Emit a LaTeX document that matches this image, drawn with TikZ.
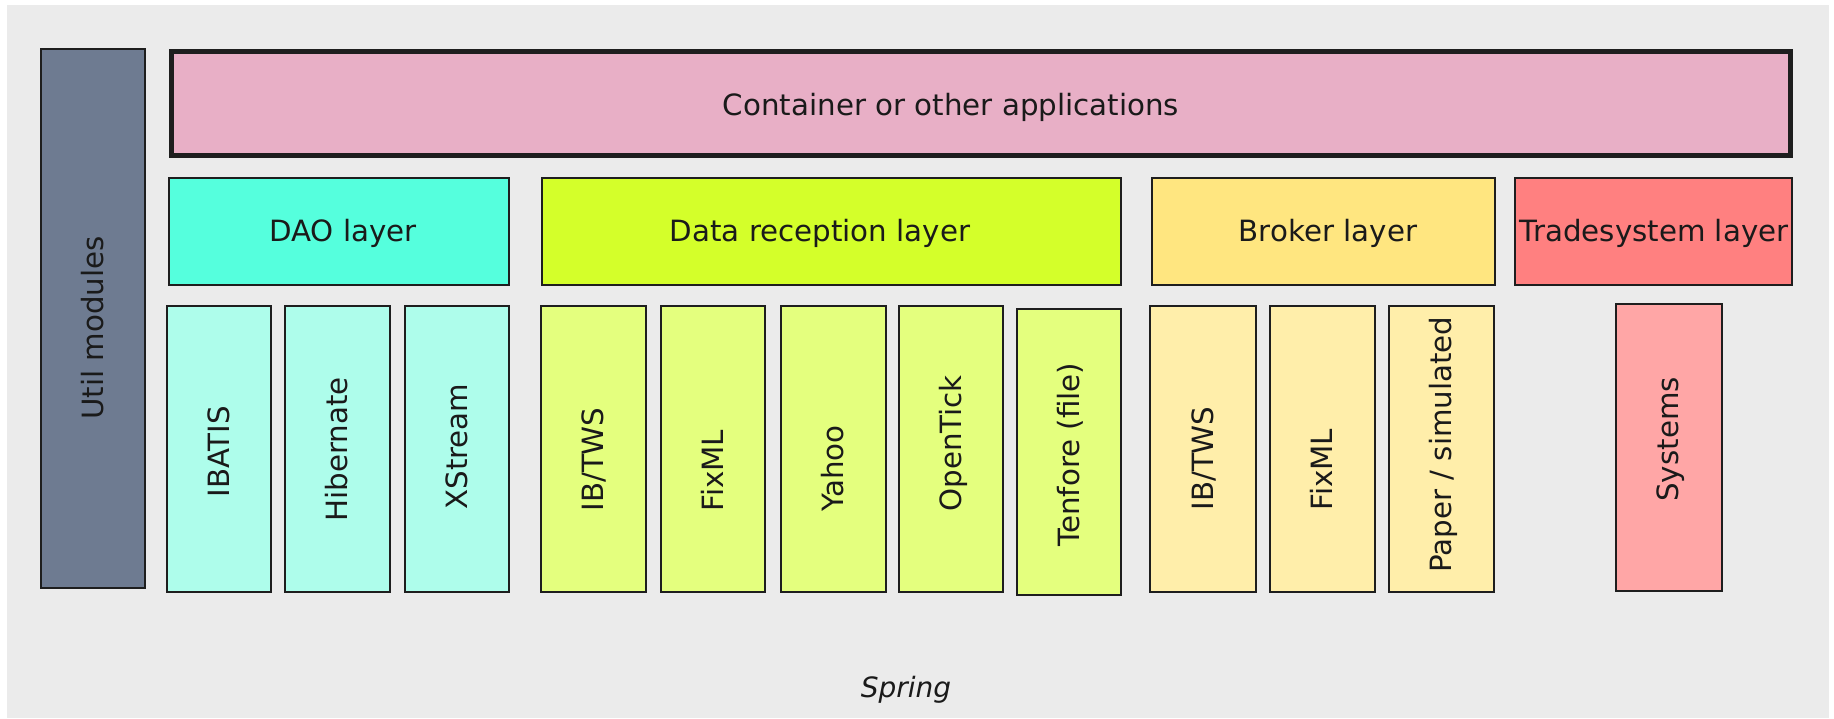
\documentclass[tikz,border=0pt]{standalone}
\usepackage{fontspec}
\setmainfont{DejaVu Sans}
\definecolor{bgc}{HTML}{EBEBEB}
\definecolor{edgec}{HTML}{1E1E1E}
\definecolor{utilc}{HTML}{6E7B91}
\definecolor{contc}{HTML}{E8AFC6}
\definecolor{daoc}{HTML}{55FFDD}
\definecolor{daosubc}{HTML}{AEFDEB}
\definecolor{drc}{HTML}{D4FF2A}
\definecolor{drsubc}{HTML}{E4FF7E}
\definecolor{brc}{HTML}{FFE680}
\definecolor{brsubc}{HTML}{FFEEAA}
\definecolor{tsc}{HTML}{FF8080}
\definecolor{tssubc}{HTML}{FFA6A6}
\definecolor{txtc}{HTML}{1A1A1A}
% name, x1, y1, x2, y2, fill
\newcommand\mkblk[6]{%
  \node[blk, fill=#6, minimum width={(#4-#2)*0.5pt}, minimum height={(#5-#3)*0.5pt}]
    (#1) at ({(#2+#4)/2},{(#3+#5)/2}) {};}
\tikzset{
  blk/.style={draw=edgec, line width=1.2pt, inner sep=0pt, outer sep=0pt, rectangle},
  lbl/.style={font=\fontsize{14.65pt}{17pt}\selectfont, text=txtc, inner sep=0pt, anchor=base},
  vlbl/.style={font=\fontsize{14.65pt}{17pt}\selectfont, text=txtc, inner sep=0pt, rotate=90, anchor=base west},
}
\begin{document}
\begin{tikzpicture}[x=0.5pt, y=-0.5pt]
\useasboundingbox (0,0) rectangle (1834,718);
\fill[white] (0,0) rectangle (1834,718);
\fill[bgc] (7,5) rectangle (1829,718);

% util
\mkblk{util}{41}{49}{145}{588}{utilc}
\node[vlbl] (utill) at (103,420) {Util modules};

% container
\node[blk, fill=contc, line width=2.5pt, minimum width={(1790-171.5)*0.5pt}, minimum height={(155.5-51.5)*0.5pt}]
  (cont) at ({(171.5+1790)/2},{(51.5+155.5)/2}) {};
\node[lbl] (contl) at (951,115) {Container or other applications};

% layers
\mkblk{dao}{169}{178}{509}{285}{daoc}
\node[lbl] (daol) at (343,241) {DAO layer};
\mkblk{dr}{542}{178}{1121}{285}{drc}
\node[lbl] (drl) at (820,241) {Data reception layer};
\mkblk{br}{1152}{178}{1495}{285}{brc}
\node[lbl] (brl) at (1328,241) {Broker layer};
\mkblk{ts}{1515}{178}{1792}{285}{tsc}
\node[lbl] (tsl) at (1654,241) {Tradesystem layer};

% DAO modules
\mkblk{ibatis}{167}{306}{271}{592}{daosubc}
\node[vlbl] (ibatisl) at (229,498) {IBATIS};
\mkblk{hib}{285}{306}{390}{592}{daosubc}
\node[vlbl] (hibl) at (347,522) {Hibernate};
\mkblk{xs}{405}{306}{509}{592}{daosubc}
\node[vlbl] (xsl) at (467,510) {XStream};

% Data reception modules
\mkblk{dribtws}{541}{306}{646}{592}{drsubc}
\node[vlbl] (dribtwsl) at (603,512) {IB/TWS};
\mkblk{drfix}{661}{306}{765}{592}{drsubc}
\node[vlbl] (drfixl) at (723,512) {FixML};
\mkblk{yahoo}{781}{306}{886}{592}{drsubc}
\node[vlbl] (yahool) at (843,512) {Yahoo};
\mkblk{otick}{899}{306}{1003}{592}{drsubc}
\node[vlbl] (otickl) at (961,512) {OpenTick};
\mkblk{tenf}{1017}{309}{1121}{595}{drsubc}
\node[vlbl] (tenfl) at (1079,547) {Tenfore (file)};

% Broker modules
\mkblk{bribtws}{1150}{306}{1256}{592}{brsubc}
\node[vlbl] (bribtwsl) at (1213,511) {IB/TWS};
\mkblk{brfix}{1270}{306}{1375}{592}{brsubc}
\node[vlbl] (brfixl) at (1332,511) {FixML};
\mkblk{paper}{1389}{306}{1494}{592}{brsubc}
\node[vlbl] (paperl) at (1451,573) {Paper / simulated};

% Tradesystem modules
\mkblk{sys}{1616}{304}{1722}{591}{tssubc}
\node[vlbl] (sysl) at (1678,502) {Systems};

% Spring
\node[lbl, font=\fontsize{14pt}{17pt}\selectfont\itshape] (spring) at (906,697) {Spring};
\end{tikzpicture}
\end{document}
